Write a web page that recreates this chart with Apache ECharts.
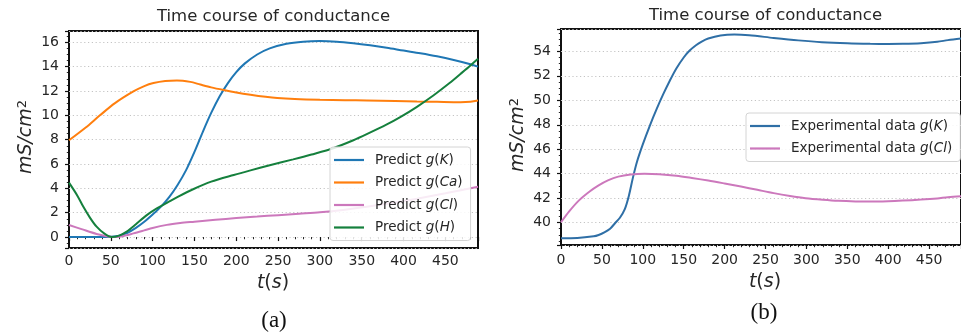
<!DOCTYPE html>
<html><head><meta charset="utf-8">
<script src="https://cdn.jsdelivr.net/npm/echarts@6/dist/echarts.min.js"></script>
<style>html,body{margin:0;padding:0;background:#fff}#c{width:961px;height:335px}</style>
</head><body><div id="c"></div>
<script>
// ---------- data: panel (a) ----------
const kT  = [0,20,40,50,60,70,80,90,100,110,120,130,140,150,160,170,180,190,200,210,225,240,260,280,300,320,340,360,380,400,420,440,460,480,489];
const kV  = [0,0,0,0.02,0.1,0.35,0.75,1.25,1.85,2.5,3.3,4.3,5.5,7.0,8.65,10.2,11.55,12.65,13.55,14.25,15.0,15.5,15.88,16.05,16.1,16.05,15.92,15.75,15.55,15.32,15.1,14.85,14.55,14.2,14.0];
const caT = [0,20,37,55,77,90,101,115,129,145,157,170,185,200,217,235,249,270,300,330,356,390,416,440,468,480,489];
const caV = [7.95,9.0,10.0,11.0,11.96,12.4,12.65,12.82,12.87,12.75,12.53,12.3,12.08,11.88,11.69,11.52,11.42,11.34,11.28,11.25,11.22,11.18,11.14,11.11,11.08,11.12,11.22];
const clT = [0,15,33,45,53,62,77,90,100,117,133,150,175,200,225,250,275,300,330,356,390,416,450,489];
const clV = [0.99,0.65,0.25,0.07,0.0,0.05,0.3,0.55,0.75,1.0,1.15,1.26,1.42,1.56,1.68,1.8,1.92,2.04,2.25,2.48,2.83,3.15,3.6,4.14];
const hT  = [0,10,17,25,33,42,51,60,69,80,93,105,117,130,149,170,197,217,240,268,290,316,340,356,380,396,416,436,455,468,480,489];
const hV  = [4.47,3.4,2.5,1.6,0.85,0.3,0.0,0.12,0.44,1.05,1.8,2.35,2.8,3.3,3.95,4.55,5.1,5.48,5.9,6.38,6.78,7.3,7.95,8.45,9.25,9.85,10.7,11.65,12.65,13.4,14.1,14.65];
// ---------- data: panel (b) ----------
const ekT = [0,20,40,46,53,60,66,72,78,83,88,93,100,109,117,125,133,141,150,157,165,172,180,195,212,230,260,290,319,350,378,400,418,440,460,473,489];
const ekV = [38.72,38.74,38.88,38.99,39.2,39.5,39.95,40.4,41.1,42.2,43.7,45.0,46.4,48.0,49.3,50.5,51.6,52.6,53.5,54.05,54.5,54.8,55.05,55.3,55.38,55.32,55.1,54.9,54.75,54.66,54.62,54.61,54.62,54.67,54.78,54.92,55.05];
const ecT = [0,10,22,35,46,58,70,85,102,120,141,160,180,200,220,240,260,280,299,320,339,360,378,400,418,440,460,473,489];
const ecV = [40.03,40.92,41.82,42.55,43.05,43.48,43.76,43.93,43.99,43.95,43.83,43.65,43.44,43.2,42.95,42.68,42.41,42.18,42.0,41.87,41.78,41.73,41.72,41.75,41.8,41.88,41.98,42.08,42.15];

const namesA = ['Predict g(K)','Predict g(Ca)','Predict g(Cl)','Predict g(H)'];
const namesB = ['Experimental data g(K)','Experimental data g(Cl)'];
const xTicksStep = 50;

const FONT = 'DejaVu Sans';
const TXT = '#262626';
const pairs = (t, v) => t.map((x, i) => [x, v[i]]);

function xAx(gi, max, margin) {
  return {
    type: 'value', gridIndex: gi, min: 0, max: max, interval: xTicksStep,
    axisLine: {show: false},
    axisTick: {show: true, inside: false, length: 4, lineStyle: {color: '#111', width: 1.2}},
    minorTick: {show: true, splitNumber: 5, length: 2.2, lineStyle: {color: '#111', width: 0.9}},
    axisLabel: {show: true, margin: margin, color: TXT, fontFamily: FONT, fontSize: 14, showMaxLabel: false},
    splitLine: {show: false}
  };
}
function yAx(gi, min, max) {
  return {
    type: 'value', gridIndex: gi, min: min, max: max, splitNumber: 9,
    axisLine: {show: false},
    axisTick: {show: true, inside: false, length: 4, lineStyle: {color: '#111', width: 1.2}},
    minorTick: {show: true, splitNumber: 4, length: 2.2, lineStyle: {color: '#111', width: 0.9}},
    axisLabel: {show: true, margin: 10, color: TXT, fontFamily: FONT, fontSize: 14, showMinLabel: false, showMaxLabel: false},
    splitLine: {show: true, lineStyle: {color: '#c4c4c4', type: [1.2, 2.6], width: 1}}
  };
}
function ln(name, t, v, color, xi, yi) {
  return {
    name: name, type: 'line', xAxisIndex: xi, yAxisIndex: yi, data: pairs(t, v),
    smooth: 0.3, symbol: 'none', showSymbol: false,
    lineStyle: {color: color, width: 2}, itemStyle: {color: color}
  };
}
const legendFmt = n => n.replace(/g\((\w+)\)$/, '{i|g}({i|$1})');
function legend(data, left, top) {
  return {
    data: data.map(n => ({name: n, icon: 'rect'})), orient: 'vertical', left: left, top: top,
    itemWidth: 30, itemHeight: 2.2, itemGap: 6.5,
    padding: [5, 8, 5, 4],
    borderColor: '#d4d4d4', borderWidth: 1, borderRadius: 3,
    backgroundColor: 'rgba(255,255,255,0.85)',
    formatter: legendFmt,
    textStyle: {fontFamily: FONT, fontSize: 13.5, color: TXT, lineHeight: 16, padding: [0, 0, 0, 6],
      rich: {i: {fontFamily: FONT, fontSize: 13.5, fontStyle: 'italic', color: TXT, lineHeight: 16}}}
  };
}
function txt(x, y, text, size, extra) {
  return Object.assign({type: 'text', x: x, y: y, silent: true,
    style: {text: text, fontFamily: FONT, fontSize: size, fill: TXT, align: 'center', verticalAlign: 'middle'}}, extra || {});
}
const ylabRich = {
  a: {fontFamily: FONT, fontSize: 19, fontStyle: 'italic', fill: TXT},
  b: {fontFamily: FONT, fontSize: 13, fill: TXT, verticalAlign: 'top'}
};
const xlabRich = {
  i: {fontFamily: FONT, fontSize: 19, fontStyle: 'italic', fill: TXT},
  p: {fontFamily: FONT, fontSize: 19, fill: TXT}
};

const chart = echarts.init(document.getElementById('c'), null, {renderer: 'canvas'});
chart.setOption({
  animation: false,
  backgroundColor: '#fff',
  grid: [
    {left: 69, top: 31, width: 409, height: 217, show: true, borderColor: '#111', borderWidth: 2, backgroundColor: 'transparent'},
    {left: 561, top: 29, width: 412.6, height: 216, show: true, borderColor: '#111', borderWidth: 2, backgroundColor: 'transparent'}
  ],
  xAxis: [xAx(0, 489, 6), xAx(1, 489, 8)],
  yAxis: [yAx(0, -0.9, 16.93), yAx(1, 38.17, 55.83)],
  legend: [legend(namesA, 330, 147), legend(namesB, 746, 113)],
  series: [
    ln(namesA[0], kT, kV, '#1f77b4', 0, 0),
    ln(namesA[1], caT, caV, '#ff7f0e', 0, 0),
    ln(namesA[2], clT, clV, '#cc78bc', 0, 0),
    ln(namesA[3], hT, hV, '#15803d', 0, 0),
    ln(namesB[0], ekT, ekV, '#2f6fa6', 1, 1),
    ln(namesB[1], ecT, ecV, '#cc78bc', 1, 1)
  ],
  graphic: [
    txt(273.5, 17, 'Time course of conductance', 16.5),
    txt(765.5, 15.5, 'Time course of conductance', 16.5),
    txt(26, 137, '', 19, {rotation: Math.PI / 2, style: {text: '{a|mS/cm}{b|2}', rich: ylabRich, align: 'center', verticalAlign: 'middle', fill: TXT}}),
    txt(518, 135, '', 19, {rotation: Math.PI / 2, style: {text: '{a|mS/cm}{b|2}', rich: ylabRich, align: 'center', verticalAlign: 'middle', fill: TXT}}),
    txt(273, 283, '', 19, {style: {text: '{i|t}{p|(}{i|s}{p|)}', rich: xlabRich, align: 'center', verticalAlign: 'middle', fill: TXT}}),
    txt(765, 282, '', 19, {style: {text: '{i|t}{p|(}{i|s}{p|)}', rich: xlabRich, align: 'center', verticalAlign: 'middle', fill: TXT}}),
    txt(274, 321, '', 23, {style: {text: '(a)', fontFamily: 'Liberation Serif', fontSize: 23, fill: '#111', align: 'center', verticalAlign: 'middle'}}),
    txt(764, 313, '', 23, {style: {text: '(b)', fontFamily: 'Liberation Serif', fontSize: 23, fill: '#111', align: 'center', verticalAlign: 'middle'}})
  ]
});
</script>
</body></html>
